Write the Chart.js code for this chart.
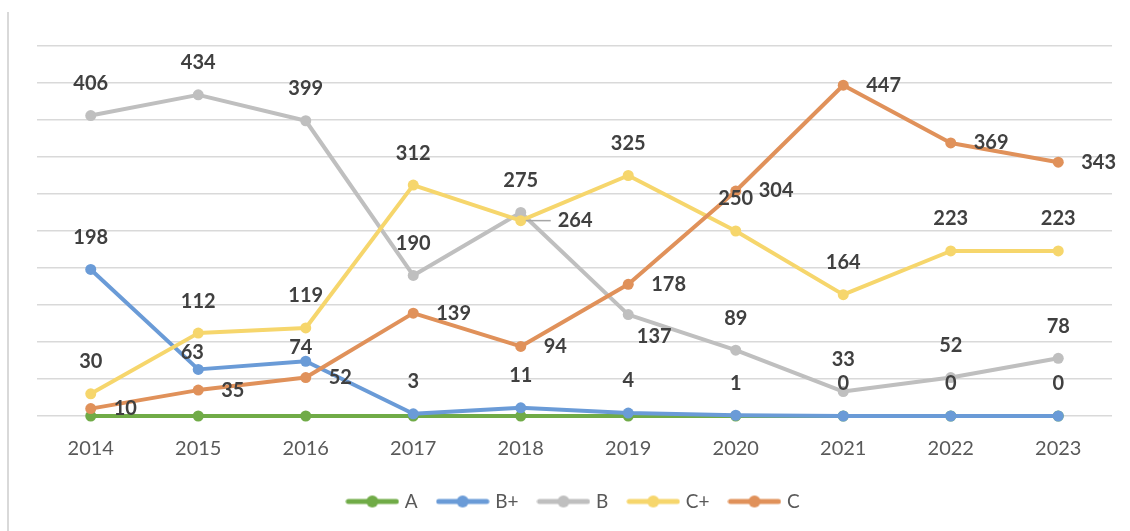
<!DOCTYPE html>
<html>
<head>
<meta charset="utf-8">
<script src="https://cdn.jsdelivr.net/npm/chart.js@4.4.0/dist/chart.umd.min.js"></script>
<style>
  html, body { margin: 0; padding: 0; background: #fff; }
  #wrap { width: 1130px; height: 531px; position: relative; }
</style>
</head>
<body>
<div id="wrap"><canvas id="myChart"></canvas></div>
<script>
const years = ['2014', '2015', '2016', '2017', '2018', '2019', '2020', '2021', '2022', '2023'];
const gradeA = [0, 0, 0, 0, 0, 0, 0, 0, 0, 0];
const gradeBPlus = [198, 63, 74, 3, 11, 4, 1, 0, 0, 0];
const gradeB = [406, 434, 399, 190, 275, 137, 89, 33, 52, 78];
const gradeCPlus = [30, 112, 119, 312, 264, 325, 250, 164, 223, 223];
const gradeC = [10, 35, 52, 139, 94, 178, 304, 447, 369, 343];
const yMin = 0;
const yMax = 500;
const yStep = 50;

const colors = {
    A: '#70AB47',
    'B+': '#6A9BD7',
    B: '#BFBFBF',
    'C+': '#F6D66C',
    C: '#E0915A'
};

// where the value label of each point goes: 'up', 'right', 'lead' (leader line) or [dx, dy]
const labelSpots = {
    'B+': ['up', [-6, -17], [-5, -14], 'up', 'up', 'up', 'up', 'up', 'up', 'up'],
    'B': ['up', 'up', 'up', 'up', 'up', [26, 22], 'up', 'up', 'up', 'up'],
    'C+': ['up', 'up', 'up', 'up', 'lead', 'up', 'up', 'up', 'up', 'up'],
    'C': ['right', 'right', 'right', 'right', 'right', 'right', 'right', 'right', 'right', 'right']
};

const ctx = document.getElementById('myChart');

function lineSample(color) {
    const c = document.createElement('canvas');
    c.width = 54;
    c.height = 14;
    const g = c.getContext('2d');
    g.strokeStyle = color;
    g.lineWidth = 5;
    g.lineCap = 'round';
    g.beginPath();
    g.moveTo(3, 7);
    g.lineTo(51, 7);
    g.stroke();
    g.fillStyle = color;
    g.beginPath();
    g.arc(27, 7, 6, 0, Math.PI * 2);
    g.fill();
    return c;
}

function makeSeries(label, values, order) {
    return {
        label: label,
        data: values,
        borderColor: colors[label],
        backgroundColor: colors[label],
        pointBackgroundColor: colors[label],
        pointBorderColor: colors[label],
        borderWidth: 4,
        pointRadius: 5.5,
        pointBorderWidth: 0,
        tension: 0,
        borderJoinStyle: 'round',
        clip: false,
        order: order
    };
}

const valueLabels = {
    id: 'valueLabels',
    afterDatasetsDraw(chart) {
        const c = chart.ctx;
        c.save();
        c.font = 'bold 20px Lato';
        c.fillStyle = '#404040';
        c.textBaseline = 'middle';
        chart.data.datasets.forEach((ds, i) => {
            const spots = labelSpots[ds.label];
            if (!spots) return;
            const meta = chart.getDatasetMeta(i);
            meta.data.forEach((pt, j) => {
                const text = String(ds.data[j]);
                const spot = spots[j];
                if (spot === 'up') {
                    c.textAlign = 'center';
                    c.fillText(text, pt.x, pt.y - 32);
                } else if (spot === 'right') {
                    c.textAlign = 'left';
                    c.fillText(text, pt.x + 23, pt.y);
                } else if (spot === 'lead') {
                    c.strokeStyle = '#A6A6A6';
                    c.lineWidth = 1.5;
                    c.beginPath();
                    c.moveTo(pt.x + 5, pt.y);
                    c.lineTo(pt.x + 30, pt.y);
                    c.stroke();
                    c.textAlign = 'left';
                    c.fillText(text, pt.x + 37, pt.y);
                } else {
                    c.textAlign = 'center';
                    c.fillText(text, pt.x + spot[0], pt.y + spot[1]);
                }
            });
        });
        c.restore();
    }
};

const frame = {
    id: 'frame',
    beforeDraw(chart) {
        const c = chart.ctx;
        c.save();
        c.fillStyle = '#ffffff';
        c.fillRect(0, 0, chart.width, chart.height);
        c.strokeStyle = '#D9D9D9';
        c.lineWidth = 2;
        c.beginPath();
        c.moveTo(8, 12);
        c.lineTo(8, chart.height);
        c.stroke();
        c.restore();
    }
};

const myChart = new Chart(ctx, {
    type: 'line',
    data: {
        labels: years,
        datasets: [
            makeSeries('A', gradeA, 5),
            makeSeries('B+', gradeBPlus, 4),
            makeSeries('B', gradeB, 3),
            makeSeries('C+', gradeCPlus, 2),
            makeSeries('C', gradeC, 1)
        ]
    },
    options: {
        responsive: true,
        maintainAspectRatio: false,
        devicePixelRatio: 1,
        animation: false,
        layout: {
            padding: { left: 37, right: 18, top: 46, bottom: 10 }
        },
        plugins: {
            tooltip: { enabled: false },
            legend: {
                position: 'bottom',
                labels: {
                    usePointStyle: true,
                    pointStyleWidth: 46,
                    padding: 22,
                    color: '#595959',
                    font: { family: 'Lato', size: 19 },
                    generateLabels(chart) {
                        return chart.data.datasets.map((ds, i) => ({
                            text: ds.label,
                            pointStyle: lineSample(colors[ds.label]),
                            fillStyle: colors[ds.label],
                            strokeStyle: colors[ds.label],
                            lineWidth: 0,
                            fontColor: '#595959',
                            hidden: !chart.isDatasetVisible(i),
                            datasetIndex: i
                        }));
                    }
                }
            }
        },
        scales: {
            x: {
                offset: true,
                grid: { display: false },
                border: { display: false },
                ticks: {
                    color: '#595959',
                    font: { family: 'Lato', size: 20 },
                    padding: 13,
                    maxRotation: 0,
                    autoSkip: false
                },
                afterFit(scale) { scale.height = 54; }
            },
            y: {
                min: yMin,
                max: yMax,
                ticks: { display: false, stepSize: yStep },
                grid: { color: '#D9D9D9', lineWidth: 1.5, drawTicks: false },
                border: { display: false },
                afterFit(scale) { scale.width = 0; }
            }
        }
    },
    plugins: [frame, valueLabels]
});
</script>
</body>
</html>
